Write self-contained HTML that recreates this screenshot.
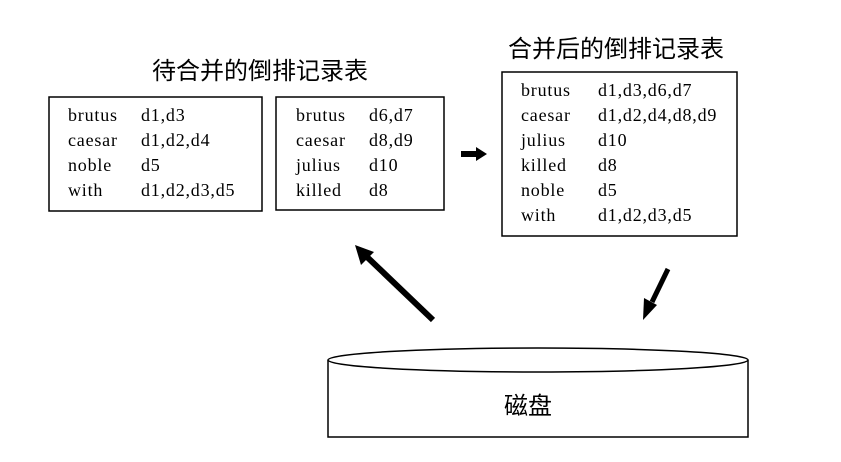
<!DOCTYPE html>
<html><head><meta charset="utf-8"><style>
body{margin:0;background:#fff;}
svg text{fill:#000}
.t{font-family:"Liberation Serif",serif;font-size:18px;letter-spacing:0.8px}
.c{font-family:"Liberation Sans","Noto Sans CJK SC",sans-serif;font-size:24px}
</style></head><body>
<svg width="841" height="457" viewBox="0 0 841 457" xmlns="http://www.w3.org/2000/svg">
<text class="c" x="260" y="79" text-anchor="middle">待合并的倒排记录表</text>
<text class="c" x="616" y="57" text-anchor="middle">合并后的倒排记录表</text>
<g fill="none" stroke="#000" stroke-width="1.5">
<rect x="49" y="97" width="213" height="114"/>
<rect x="276" y="97" width="168" height="113"/>
<rect x="502" y="72" width="235" height="164"/>
</g>
<g class="t">
<text x="68" y="121">brutus</text><text x="141" y="121">d1,d3</text>
<text x="68" y="146">caesar</text><text x="141" y="146">d1,d2,d4</text>
<text x="68" y="171">noble</text><text x="141" y="171">d5</text>
<text x="68" y="196">with</text><text x="141" y="196">d1,d2,d3,d5</text>
<text x="296" y="121">brutus</text><text x="369" y="121">d6,d7</text>
<text x="296" y="146">caesar</text><text x="369" y="146">d8,d9</text>
<text x="296" y="171">julius</text><text x="369" y="171">d10</text>
<text x="296" y="196">killed</text><text x="369" y="196">d8</text>
<text x="521" y="96">brutus</text><text x="598" y="96">d1,d3,d6,d7</text>
<text x="521" y="121">caesar</text><text x="598" y="121">d1,d2,d4,d8,d9</text>
<text x="521" y="146">julius</text><text x="598" y="146">d10</text>
<text x="521" y="171">killed</text><text x="598" y="171">d8</text>
<text x="521" y="196">noble</text><text x="598" y="196">d5</text>
<text x="521" y="221">with</text><text x="598" y="221">d1,d2,d3,d5</text>
</g>
<polygon points="461,151 476,151 476,147 487,154 476,161 476,157 461,157" fill="#000"/>
<line x1="433" y1="320" x2="366" y2="256" stroke="#000" stroke-width="6"/>
<polygon points="355,245 374,252 361,265" fill="#000"/>
<line x1="668" y1="269" x2="652" y2="302" stroke="#000" stroke-width="5"/>
<polygon points="643,320 644,298 657,305" fill="#000"/>
<path d="M328,360 L328,437 L748,437 L748,360" fill="none" stroke="#000" stroke-width="1.5"/>
<ellipse cx="538" cy="360" rx="210" ry="12" fill="#fff" stroke="#000" stroke-width="1.5"/>
<text class="c" x="528" y="414" text-anchor="middle">磁盘</text>
</svg>
</body></html>
